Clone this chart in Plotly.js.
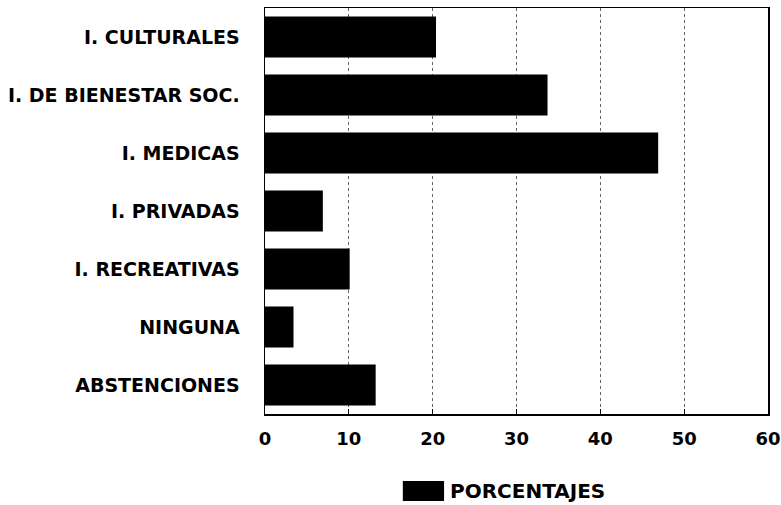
<!DOCTYPE html>
<html>
<head>
<meta charset="utf-8">
<script src="https://cdn.plot.ly/plotly-3.0.1.min.js"></script>
<style>html,body{margin:0;padding:0;background:#fff;}#chart{width:781px;height:505px;}</style>
</head>
<body>
<div id="chart"></div>
<script>
const categories = ["I. CULTURALES", "I. DE BIENESTAR SOC.", "I. MEDICAS", "I. PRIVADAS", "I. RECREATIVAS", "NINGUNA", "ABSTENCIONES"];
const porcentajes = [20.4, 33.7, 46.9, 6.9, 10.1, 3.4, 13.2];
const seriesName = "PORCENTAJES";
const xTicks = [0, 10, 20, 30, 40, 50, 60];

const fam = "DejaVu Sans, Liberation Sans, Arial, sans-serif";

const trace = {
  type: "bar",
  orientation: "h",
  y: categories,
  x: porcentajes,
  name: seriesName,
  marker: {color: "#000", line: {width: 0}},
  hoverinfo: "x+y"
};

const layout = {
  width: 781,
  height: 505,
  margin: {l: 265, r: 13, t: 8, b: 91},
  paper_bgcolor: "#fff",
  plot_bgcolor: "#fff",
  showlegend: false,
  bargap: 0.29,
  font: {family: fam, size: 18, color: "#000", weight: "bold"},
  xaxis: {
    range: [0, 60],
    tickvals: xTicks,
    ticktext: xTicks.map(String),
    showgrid: true,
    gridcolor: "#666",
    griddash: "dot",
    gridwidth: 1,
    zeroline: false,
    showline: true,
    linecolor: "#000",
    linewidth: 1.5,
    mirror: true,
    ticks: "inside",
    ticklen: 5,
    tickcolor: "#000",
    ticklabelstandoff: 8,
    tickfont: {family: fam, size: 18, color: "#000", weight: "bold"}
  },
  yaxis: {
    autorange: "reversed",
    showgrid: false,
    zeroline: false,
    showline: true,
    linecolor: "#000",
    linewidth: 1.5,
    mirror: true,
    ticks: "",
    ticklabelstandoff: 20,
    tickfont: {family: fam, size: 19, color: "#000", weight: "bold"}
  },
  shapes: [{
    type: "rect", xref: "paper", yref: "paper",
    x0: 0.274, x1: 0.356, y0: -0.214, y1: -0.165,
    fillcolor: "#000", line: {width: 0}
  }],
  annotations: [{
    xref: "paper", yref: "paper", x: 0.364, y: -0.19,
    xanchor: "left", yanchor: "middle", showarrow: false,
    text: seriesName,
    font: {family: fam, size: 20, color: "#000", weight: "bold"}
  }]
};

Plotly.newPlot("chart", [trace], layout, {displayModeBar: false, staticPlot: true});
</script>
</body>
</html>
